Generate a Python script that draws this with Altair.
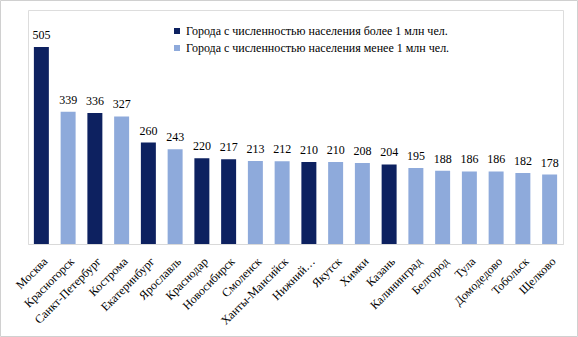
import altair as alt
import pandas as pd

cities = ["Москва", "Красногорск", "Санкт-Петербург", "Кострома", "Екатеринбург",
          "Ярославль", "Краснодар", "Новосибирск", "Смоленск", "Ханты-Мансийск",
          "Нижний…", "Якутск", "Химки", "Казань", "Калининград", "Белгород",
          "Тула", "Домодедово", "Тобольск", "Щелково"]
values = [505, 339, 336, 327, 260, 243, 220, 217, 213, 212,
          210, 210, 208, 204, 195, 188, 186, 186, 182, 178]
big = [True, False, True, False, True, False, True, True, False, False,
       True, False, False, True, False, False, False, False, False, False]
group_big = "Города с численностью населения более 1 млн чел."
group_small = "Города с численностью населения менее 1 млн чел."

df = pd.DataFrame({
    "city": cities,
    "value": values,
    "group": [group_big if b else group_small for b in big],
})

FONT = "'Times New Roman', 'Liberation Serif', 'DejaVu Serif', serif"

x = alt.X("city:N", sort=cities, title=None,
          scale=alt.Scale(paddingInner=0.44, paddingOuter=0.22),
          axis=alt.Axis(labelAngle=-45, labelAlign="right", labelBaseline="middle",
                        labelFont=FONT, labelFontSize=12, labelColor="#000000",
                        ticks=False, domainColor="#d9d9d9", labelPadding=15,
                        labelOffset=4, labelLimit=200))
y = alt.Y("value:Q", scale=alt.Scale(domain=[0, 600]), axis=None)

bars = alt.Chart(df).mark_bar().encode(
    x=x, y=y,
    color=alt.Color("group:N",
                    scale=alt.Scale(domain=[group_big, group_small],
                                    range=["#0d2160", "#8eaadb"]),
                    legend=alt.Legend(title=None, orient="none", legendX=143, legendY=15,
                                      symbolType="square", symbolSize=36,
                                      labelFont=FONT, labelFontSize=12, labelOffset=3,
                                      labelColor="#000000", labelLimit=500,
                                      rowPadding=5, symbolStrokeWidth=0)),
)

labels = alt.Chart(df).mark_text(baseline="bottom", dy=-5, font=FONT, fontSize=12,
                                 color="#000000").encode(
    x=alt.X("city:N", sort=cities), y=y, text="value:Q")

border = alt.Chart(pd.DataFrame({"a": [0]})).mark_rect(
    fill=None, stroke="#d0d0d0", strokeWidth=1, clip=False).encode(
    x=alt.value(-27.5), x2=alt.value(549.5), y=alt.value(-9.5), y2=alt.value(326.5))

chart = alt.layer(bars, labels, border).properties(
    width=535, height=234,
    autosize=alt.AutoSizeParams(type="none"),
    padding={"left": 28, "top": 10, "right": 15, "bottom": 93},
).configure_view(stroke=None).configure(background="white", font=FONT)

chart.save("out.html", embed_options={"renderer": "svg", "actions": False})
